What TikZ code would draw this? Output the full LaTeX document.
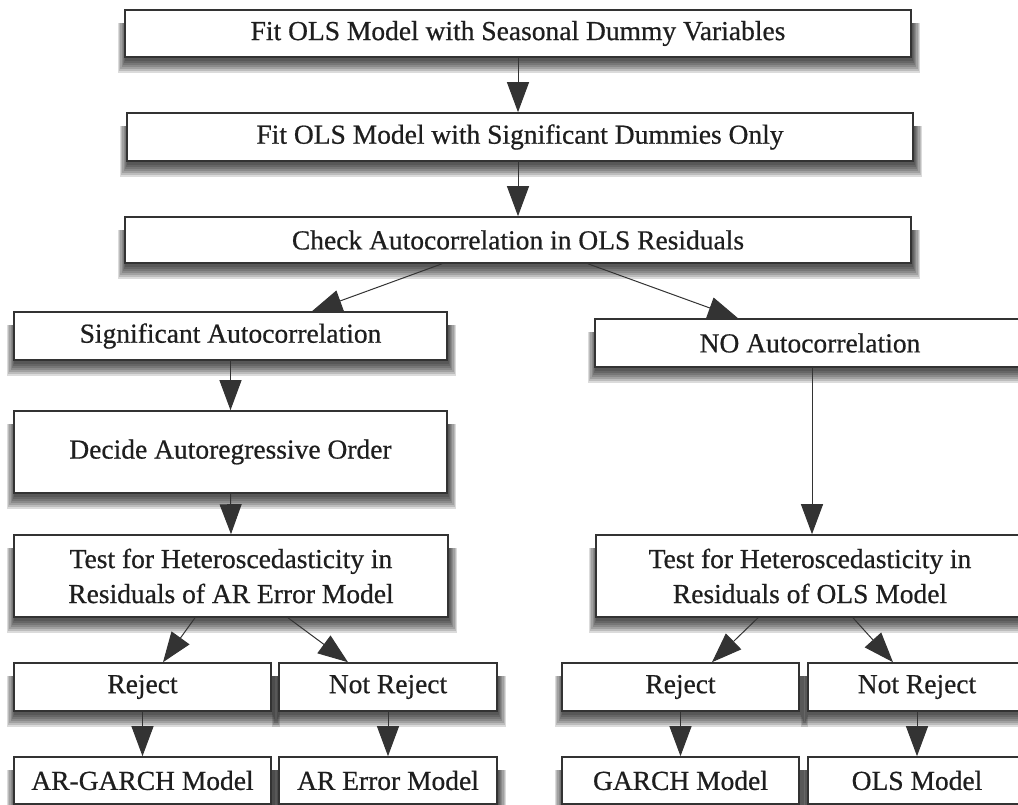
\documentclass[tikz,border=0pt]{standalone}
\usepackage{fontspec}
\setmainfont{Liberation Serif}
\newfontfamily\boxfont{Liberation Serif}[FakeBold=0.6]
\usetikzlibrary{arrows.meta,backgrounds}
\definecolor{edgecol}{HTML}{333333}
\definecolor{txtcol}{HTML}{1E1E1E}
\tikzset{
  box/.style={rectangle, draw=edgecol, line width=1.6pt, fill=white, inner sep=0pt,
    align=center, text=txtcol, font=\boxfont\fontsize{27.5}{35}\selectfont},
  conn/.style={draw=edgecol, line width=1pt,
    -{Triangle[length=30pt,width=22pt,fill=edgecol]}},
  shadowpiece/.style={fill=black, opacity=0.14}
}
\begin{document}
\begin{tikzpicture}[x=1pt,y=-1pt]
\useasboundingbox (0,0) rectangle (1018,805);
\node[box, minimum width=786pt, minimum height=47pt] (b1) at (518,33.5) {Fit OLS Model with Seasonal Dummy Variables};
\node[box, minimum width=786pt, minimum height=48pt] (b2) at (520,137) {Fit OLS Model with Significant Dummies Only};
\node[box, minimum width=786pt, minimum height=46pt] (b3) at (518,240) {Check Autocorrelation in OLS Residuals};
\node[box, minimum width=433pt, minimum height=48pt] (sig) at (230.5,336) {Significant Autocorrelation};
\node[box, minimum width=430pt, minimum height=48pt] (noac) at (810,343) {NO Autocorrelation};
\node[box, minimum width=433pt, minimum height=82pt] (dec) at (230.5,452) {Decide Autoregressive Order};
\node[box, minimum width=434pt, minimum height=82pt] (tar) at (231,576) {Test for Heteroscedasticity in\\Residuals of AR Error Model};
\node[box, minimum width=428pt, minimum height=82pt] (tols) at (810,576) {Test for Heteroscedasticity in\\Residuals of OLS Model};
\node[box, minimum width=257pt, minimum height=48pt] (rejl) at (142.5,687) {Reject};
\node[box, minimum width=218pt, minimum height=48pt] (nrejl) at (388,687) {Not Reject};
\node[box, minimum width=237pt, minimum height=48pt] (rejr) at (680.5,687) {Reject};
\node[box, minimum width=218pt, minimum height=48pt] (nrejr) at (917,687) {Not Reject};
\node[box, minimum width=257pt, minimum height=47pt] (argarch) at (142.5,780.5) {AR-GARCH Model};
\node[box, minimum width=218pt, minimum height=47pt] (arerr) at (388,780.5) {AR Error Model};
\node[box, minimum width=237pt, minimum height=47pt] (garch) at (680.5,780.5) {GARCH Model};
\node[box, minimum width=218pt, minimum height=47pt] (olsm) at (917,780.5) {OLS Model};

\begin{scope}[on background layer]
  \foreach \n in {b1,b2,b3,sig,noac,dec,tar,tols,rejl,nrejl,rejr,nrejr,argarch,arerr,garch,olsm}{
    \foreach \e in {0,2,4,6,8,10,12}{
      \fill[shadowpiece] ([xshift={1pt-0.6*\e pt}, yshift={-3pt-\e pt}]\n.south west)
        rectangle ([xshift={1pt+0.6*\e pt}, yshift={-14pt}]\n.north east);
    }
  }
\end{scope}

\draw[conn] (b1.south) -- (b1.south |- b2.north);
\draw[conn] (b1.south |- b2.south) -- (b1.south |- b3.north);
\draw[conn] ([xshift=-76pt]b3.south) -- ([xshift=81.5pt]sig.north);
\draw[conn] ([xshift=70pt]b3.south) -- ([xshift=-72pt]noac.north);
\draw[conn] (sig.south) -- (dec.north);
\draw[conn] (dec.south) -- (tar.north);
\draw[conn] ([xshift=2pt]noac.south) -- ([xshift=2pt]tols.north);
\draw[conn] ([xshift=-36pt]tar.south) -- ([xshift=20.5pt]rejl.north);
\draw[conn] ([xshift=57pt]tar.south) -- ([xshift=-40pt]nrejl.north);
\draw[conn] ([xshift=-52pt]tols.south) -- ([xshift=31.5pt]rejr.north);
\draw[conn] ([xshift=43pt]tols.south) -- ([xshift=-24pt]nrejr.north);
\draw[conn] (rejl.south) -- (argarch.north);
\draw[conn] (nrejl.south) -- (arerr.north);
\draw[conn] (rejr.south) -- (garch.north);
\draw[conn] (nrejr.south) -- (olsm.north);
\end{tikzpicture}
\end{document}
